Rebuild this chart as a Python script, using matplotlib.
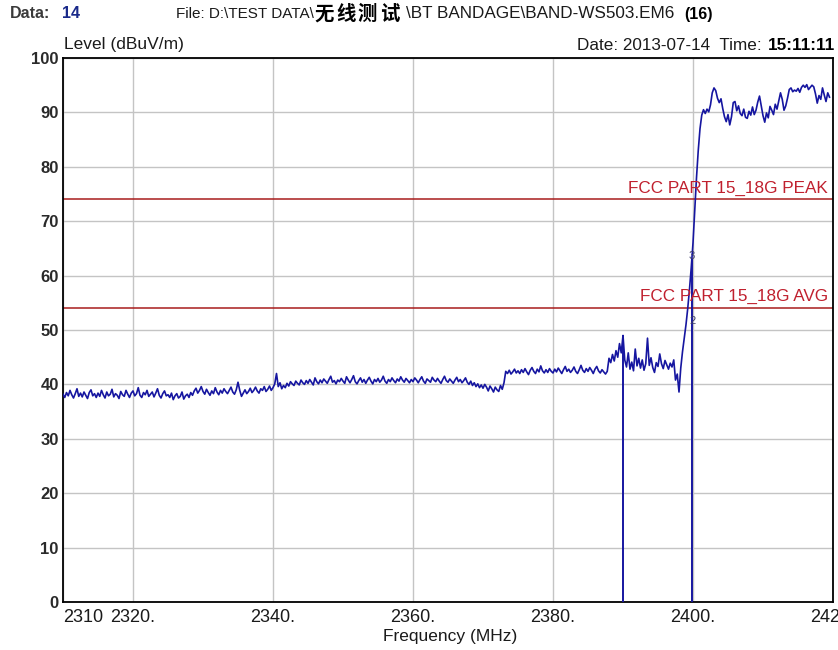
import numpy as np
import matplotlib
matplotlib.use("Agg")
import matplotlib.pyplot as plt

plt.rcParams["font.family"] = ["Liberation Sans", "Noto Sans CJK SC", "DejaVu Sans"]

# Measured level trace, 0.25 MHz steps starting at 2310 MHz (dBuV/m)
start_freq = 2310.0
freq_step = 0.25
levels = [
    38.2, 37.6, 38.5, 37.9, 38.9, 38.1, 37.5, 38.3, 39.2, 37.8, 38.4, 37.7, 38.6, 38.0, 37.4, 38.5, 39.0, 37.9, 38.3, 37.6,
    38.4, 37.8, 38.9, 38.1, 37.5, 38.6, 37.9, 38.2, 39.1, 37.7, 38.3, 38.0, 37.4, 38.7, 38.1, 37.8, 38.9, 38.2, 37.6, 38.4,
    38.8, 37.9, 38.3, 39.4, 38.0, 37.6, 38.5, 38.1, 38.9, 37.8, 38.2, 38.6, 37.7, 38.4, 39.2, 38.0, 37.5, 38.3, 38.8, 37.9,
    38.1, 37.6, 38.4, 37.2, 37.9, 38.3, 37.5, 37.8, 38.6, 37.3, 37.9, 38.2, 37.6, 38.5, 38.0, 38.8, 39.3, 38.4, 38.9, 39.6,
    38.7, 38.2, 39.1, 38.5, 38.0, 38.8, 38.3, 39.4, 38.6, 38.1, 38.9, 38.4, 39.2, 38.7, 38.3, 38.9, 39.5, 38.6, 38.2, 39.0,
    40.4, 38.9, 37.8, 38.4, 39.0, 38.3, 38.7, 39.3, 38.5, 38.9, 39.5, 38.8, 38.4, 39.2, 38.9, 39.6, 38.7, 39.1, 39.7, 38.9,
    39.4, 40.1, 42.0, 39.6, 40.3, 39.2, 39.8, 39.4, 40.2, 39.7, 40.5, 40.1, 39.8, 40.6, 40.2, 39.9, 40.8, 40.3, 40.0, 40.7,
    40.2, 40.9, 40.4, 39.9, 41.2, 40.5, 40.1, 40.8, 40.3, 41.0, 40.6, 40.2, 40.9, 41.5, 40.4, 40.7, 40.1, 40.8, 40.5, 41.1,
    40.6, 40.2, 41.4, 40.8, 40.3, 40.9, 41.6, 40.5, 40.1, 40.7, 41.2, 40.4, 40.9, 40.2, 40.8, 41.3, 40.6, 40.1, 40.9, 40.5,
    41.1, 40.4, 40.8, 41.5, 40.6, 40.2, 40.9, 40.5, 41.2, 40.7, 40.3, 41.0, 40.6, 41.4, 40.8, 40.4, 41.1, 40.7, 40.3, 40.9,
    40.5, 41.2, 40.8, 40.3, 40.9, 41.4, 40.6, 40.2, 41.0, 40.7, 40.4, 41.3, 40.8, 40.5, 41.1, 40.6, 40.2, 40.9, 41.5, 40.7,
    40.4, 41.0, 40.6, 40.2, 40.8, 41.3, 40.5, 40.9, 40.3, 40.7, 41.2, 40.4, 40.0, 40.6, 39.8, 40.3, 39.6, 40.1, 39.4, 39.9,
    39.3, 40.0, 39.5, 38.8, 39.7, 39.2, 38.6, 39.5, 39.0, 38.7, 39.8, 39.1, 40.3, 42.4, 42.0, 42.6, 41.9, 42.3, 42.8, 42.1,
    42.5, 42.0, 42.7, 42.2, 42.9, 42.3, 41.8, 42.6, 43.1, 42.4, 42.0, 42.8, 42.3, 43.4, 42.5, 42.1, 42.7, 42.2, 42.9, 42.4,
    42.1, 42.8, 42.3, 43.0, 42.5, 42.0, 42.7, 43.3, 42.4, 42.8, 42.2, 42.6, 43.2, 42.4, 42.0, 42.7, 43.5, 42.6, 42.2, 42.9,
    42.4, 43.1, 42.6, 42.0, 42.8, 43.3, 42.5, 42.1, 42.7, 42.3, 41.9, 42.4, 44.8, 44.0, 45.5, 44.3, 46.2, 45.0, 47.5, 45.8,
    49.0, 44.5, 43.2, 45.8, 42.8, 44.1, 42.5, 46.5, 43.4, 44.8, 43.0, 44.5, 42.6, 43.8, 48.5, 43.5, 44.9, 43.1, 42.2, 44.0,
    43.3, 45.6, 43.8, 42.9, 44.4, 43.6, 42.8, 43.9, 43.2, 44.5, 40.8, 41.9, 38.6, 43.0, 46.0, 48.5, 51.0, 54.0, 57.5, 61.5,
    66.0, 72.0, 78.0, 83.0, 87.0, 89.5, 90.5, 89.8, 90.6, 90.1, 91.4, 93.6, 94.5, 94.0, 92.6, 91.8, 92.5, 90.7, 89.2, 88.3,
    89.6, 87.7, 89.2, 91.8, 92.0, 90.3, 91.2, 89.8, 89.4, 90.6, 89.1, 88.9, 90.2, 89.5, 91.0, 89.6, 90.4, 91.9, 93.0, 91.2,
    89.4, 88.2, 89.9, 89.0, 91.1, 90.4, 89.6, 91.5, 90.6, 92.1, 93.6, 92.4, 90.4, 91.2, 92.6, 94.2, 94.5, 93.8, 94.1, 93.9,
    94.4, 93.7, 94.6, 95.0, 94.6, 95.1, 94.2, 94.6, 95.0, 94.7, 93.4, 91.7, 93.1, 92.4, 94.5, 93.2, 92.0, 93.6, 92.8,
]
freqs = start_freq + freq_step * np.arange(len(levels))

# Marker points (frequency MHz, level dBuV/m)
marker_freqs = [2390.0, 2399.9]
marker_levels = [49.0, 63.0]
marker_tags = ["3", "2"]
marker_tag_pos = [(2399.75, 63.6), (2399.95, 51.6)]

# Limit lines
limit_names = ["FCC PART 15_18G PEAK", "FCC PART 15_18G AVG"]
limit_levels = [74.0, 54.0]

x_ticks = [2310, 2320, 2340, 2360, 2380, 2400, 2420]
x_tick_labels = ["2310", "2320.", "2340.", "2360.", "2380.", "2400.", "2420."]
y_ticks = [0, 10, 20, 30, 40, 50, 60, 70, 80, 90, 100]

trace_color = "#1616a0"
limit_color = "#a81c1c"
limit_text_color = "#c0202e"
text_color = "#1a1a1a"

W, H = 838, 650
fig = plt.figure(figsize=(W / 100, H / 100), dpi=100)
ax = fig.add_axes([63 / W, 48 / H, 770 / W, 544 / H])

ax.set_xlim(2310, 2420)
ax.set_ylim(0, 100)
ax.set_axisbelow(True)

ax.set_xticks(x_ticks)
ax.set_xticklabels(x_tick_labels, fontsize=13, color=text_color)
ax.get_xticklabels()[0].set_ha("left")
ax.set_yticks(y_ticks)
ax.set_yticklabels([str(v) for v in y_ticks], fontsize=12, fontweight="bold", color="#2a2a2a")
ax.tick_params(axis="both", length=0)
ax.tick_params(axis="x", pad=5)
ax.tick_params(axis="y", pad=3)

ax.grid(True, color="#c4c4c4", linewidth=1.0)
for s in ax.spines.values():
    s.set_color("#000000")
    s.set_linewidth(1.3)

# Trace
ax.plot(freqs, levels, color=trace_color, linewidth=1.2, zorder=3)

# Marker drop lines and tags
ax.vlines(marker_freqs, 0, marker_levels, color=trace_color, linewidth=1.4, zorder=3)
for tag, (tx, ty) in zip(marker_tags, marker_tag_pos):
    ax.text(tx, ty, tag, fontsize=8, color="#3a3a6a", ha="center", va="center", zorder=4)

# Limit lines and labels
for name, lvl in zip(limit_names, limit_levels):
    ax.axhline(lvl, color=limit_color, linewidth=1.1, zorder=2)
    ax.text(2419.3, lvl + 2.1, name, fontsize=12.3, color=limit_text_color,
            ha="right", va="center", zorder=4)

# Axis titles
fig.text(64 / W, 1 - 45 / H, "Level (dBuV/m)", fontsize=12.5, color=text_color,
         ha="left", va="center")
fig.text(450 / W, 1 - 636 / H, "Frequency (MHz)", fontsize=12.5, color=text_color,
         ha="center", va="center")

# Header line
hy = 1 - 14 / H
fig.text(10 / W, hy, "Data:", fontsize=11.5, fontweight="bold", color="#3a3a3a", va="center")
fig.text(62 / W, hy, "14", fontsize=11.5, fontweight="bold", color="#1a2a8a", va="center")

fig.text(176 / W, hy, "File: D:\\TEST DATA\\", fontsize=11, color=text_color, va="center")
for i, ch in enumerate("无线测试"):
    fig.text((314 + i * 22) / W, hy, ch, fontsize=14, fontweight="bold", color="#000000",
             va="center", ha="left", family=["Noto Sans CJK SC", "DejaVu Sans"])
fig.text(406 / W, hy, "\\BT BANDAGE\\BAND-WS503.EM6", fontsize=12.3, color=text_color,
         va="center", ha="left")
fig.text(684 / W, hy, "(16)", fontsize=11.5, fontweight="bold", color="#000000",
         va="center", ha="left")

fig.text(835 / W, 1 - 45 / H, "15:11:11", fontsize=12.3, fontweight="bold",
         color="#000000", ha="right", va="center")
fig.text(766 / W, 1 - 45 / H, "Date: 2013-07-14  Time: ", fontsize=12.3,
         color=text_color, ha="right", va="center")

fig.savefig("out.png", dpi=100, facecolor="white")
